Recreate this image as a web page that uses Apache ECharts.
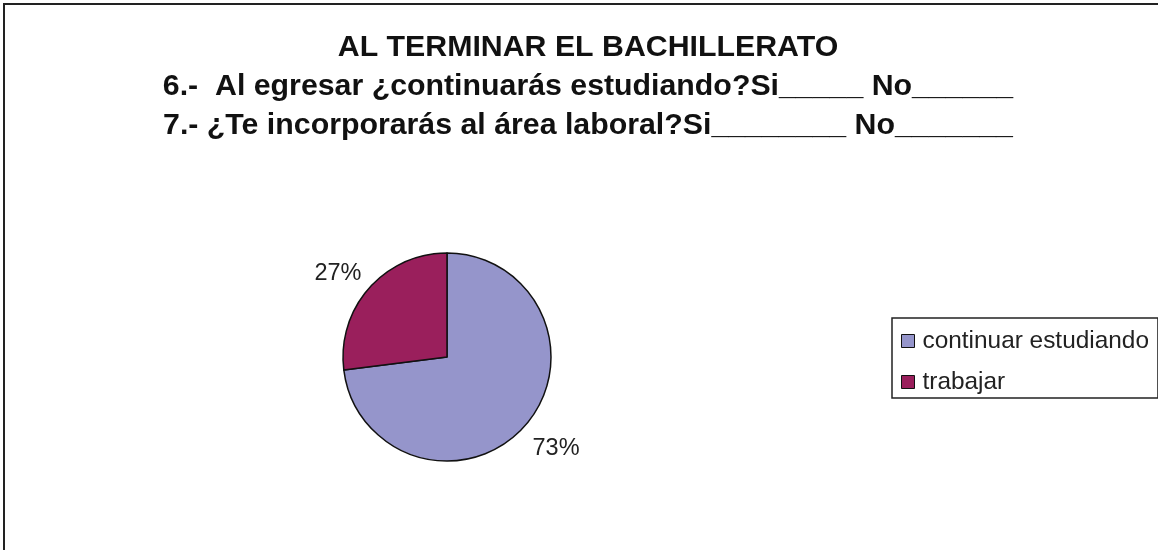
<!DOCTYPE html>
<html>
<head>
<meta charset="utf-8">
<script src="https://cdn.jsdelivr.net/npm/echarts@6/dist/echarts.min.js"></script>
<style>
  html, body { margin: 0; padding: 0; background: #fff; }
  #chart { width: 1158px; height: 550px; }
</style>
</head>
<body>
<div id="chart"></div>
<script>
// data
var titleLines = [
  "AL TERMINAR EL BACHILLERATO",
  "6.-  Al egresar ¿continuarás estudiando?Si_____ No______",
  "7.- ¿Te incorporarás al área laboral?Si________ No_______"
];
var categories = ["continuar estudiando", "trabajar"];
var values = [73, 27];
var colors = ["#9595CB", "#9A1F5C"];

var pieCenter = [447, 357];
var chart = echarts.init(document.getElementById("chart"));

chart.setOption({
  animation: false,
  backgroundColor: "#fff",
  graphic: [
    {
      type: "rect",
      shape: { x: 4, y: 4, width: 1170, height: 570 },
      style: { fill: "none", stroke: "#222", lineWidth: 2 },
      silent: true
    }
  ],
  title: {
    text: titleLines.join("\n"),
    left: 583,
    top: 23,
    textAlign: "center",
    textStyle: {
      fontFamily: "Liberation Sans, Arial, sans-serif",
      fontSize: 30.3,
      fontWeight: "bold",
      color: "#111",
      lineHeight: 39
    }
  },
  legend: {
    orient: "vertical",
    left: 892,
    top: 318,
    data: categories,
    icon: "rect",
    itemWidth: 13,
    itemHeight: 13,
    itemGap: 17,
    padding: [11, 9, 4, 9],
    borderColor: "#222",
    borderWidth: 1.5,
    borderRadius: 0,
    itemStyle: { borderColor: "#111", borderWidth: 1 },
    textStyle: {
      fontFamily: "Liberation Sans, Arial, sans-serif",
      fontSize: 24.4,
      color: "#222",
      lineHeight: 23,
      padding: [0, 0, 0, 3]
    }
  },
  series: [
    {
      type: "pie",
      center: pieCenter,
      radius: 104,
      startAngle: 90,
      clockwise: true,
      data: categories.map(function (name, i) {
        return { name: name, value: values[i], itemStyle: { color: colors[i] } };
      }),
      itemStyle: { borderColor: "#111", borderWidth: 1.5 },
      label: {
        show: true,
        position: "outside",
        formatter: "{c}%",
        fontFamily: "Liberation Sans, Arial, sans-serif",
        fontSize: 23.5,
        color: "#222",
        distanceToLabelLine: 0
      },
      labelLine: { show: false, length: 10, length2: 0 },
      // put the label's inner corner at the end of the (hidden) label line
      labelLayout: function (p) {
        var r = p.labelRect;
        var above = r.y + r.height / 2 < pieCenter[1];
        return { dy: (above ? -r.height / 2 : r.height / 2) + 4 };
      },
      emphasis: { disabled: true }
    }
  ]
});
</script>
</body>
</html>
